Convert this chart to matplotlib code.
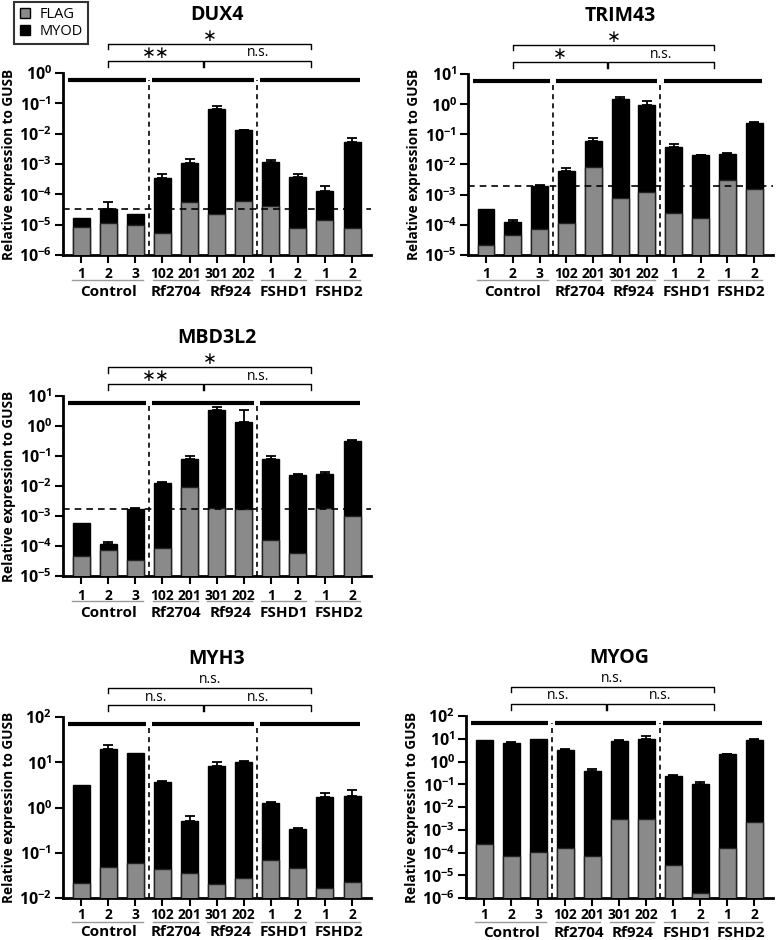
import numpy as np
import matplotlib
matplotlib.use("Agg")
import matplotlib.pyplot as plt
from matplotlib.lines import Line2D

plt.rcParams['font.family'] = ['Open Sans', 'DejaVu Sans']
plt.rcParams['mathtext.fontset'] = 'custom'
plt.rcParams['mathtext.bf'] = 'Open Sans:bold'
plt.rcParams['mathtext.rm'] = 'Open Sans:bold'

# sample labels and groups
samples = ['1', '2', '3', '102', '201', '301', '202', '1', '2', '1', '2']
groups = ['Control', 'Rf2704', 'Rf924', 'FSHD1', 'FSHD2']
group_sizes = [3, 2, 2, 2, 2]

# DUX4
dux4_myod = [1.7e-5, 3.3e-5, 2.2e-5, 3.5e-4, 1.1e-3, 0.066, 0.0128, 1.15e-3, 3.6e-4, 1.3e-4, 5.3e-3]
dux4_err = [0, 2.3e-5, 0, 1.1e-4, 4e-4, 0.013, 7e-4, 2.5e-4, 1.2e-4, 5.5e-5, 1.8e-3]
dux4_flag = [8.5e-6, 1.15e-5, 9.6e-6, 5.4e-6, 5.4e-5, 2.2e-5, 6.2e-5, 4.2e-5, 7.7e-6, 1.4e-5, 7.9e-6]

# TRIM43
trim43_myod = [3.4e-4, 1.25e-4, 2.0e-3, 6.0e-3, 0.058, 1.5, 0.97, 0.037, 0.0205, 0.022, 0.23]
trim43_err = [0, 2e-5, 1e-4, 1.5e-3, 0.02, 0.25, 0.28, 0.012, 5e-4, 2e-3, 0.03]
trim43_flag = [2.1e-5, 4.7e-5, 7.2e-5, 1.15e-4, 8e-3, 8e-4, 1.25e-3, 2.5e-4, 1.7e-4, 3e-3, 1.55e-3]

# MBD3L2
mbd3l2_myod = [6e-4, 1.15e-4, 1.7e-3, 0.0126, 0.078, 3.5, 1.35, 0.078, 0.024, 0.026, 0.31]
mbd3l2_err = [0, 2e-5, 1e-4, 1.2e-3, 0.02, 0.9, 2.0, 0.022, 5e-4, 4e-3, 0.04]
mbd3l2_flag = [4.7e-5, 7.2e-5, 3.5e-5, 8.8e-5, 9.3e-3, 1.9e-3, 1.67e-3, 1.55e-4, 6e-5, 1.9e-3, 9.8e-4]

# MYH3
myh3_myod = [3.2, 20, 15.9, 3.7, 0.5, 8.2, 10, 1.23, 0.34, 1.7, 1.8]
myh3_err = [0, 4.6, 0, 0.2, 0.14, 1.8, 0.6, 0.1, 0.01, 0.4, 0.6]
myh3_flag = [0.0215, 0.049, 0.06, 0.043, 0.036, 0.02, 0.027, 0.068, 0.046, 0.0166, 0.0224]

# MYOG
myog_myod = [9.1, 6.3, 10, 3.3, 0.39, 8, 10, 0.24, 0.105, 2.05, 8.5]
myog_err = [0, 0.7, 0, 0.2, 0.08, 0.5, 3, 0.01, 0.015, 0.15, 1.0]
myog_flag = [2.35e-4, 7e-5, 1.07e-4, 1.65e-4, 7.1e-5, 3e-3, 3e-3, 2.95e-5, 1.65e-6, 1.5e-4, 2.2e-3]

GRAY = '#8a8a8a'
W, H = 777, 940


def draw_panel(ax, title, flag, myod, err, ylim, sig, threshold=None, bottom_row=False):
    x = np.arange(len(samples))
    ax.set_yscale('log')
    ax.bar(x, myod, width=0.63, color='black', edgecolor='black', linewidth=1, zorder=2)
    ax.bar(x, flag, width=0.63, color=GRAY, edgecolor='#222222', linewidth=1, zorder=3)
    err = np.array(err)
    m = err > 0
    ax.errorbar(x[m], np.array(myod)[m], yerr=[np.zeros(m.sum()), err[m]], fmt='none',
                ecolor='black', elinewidth=1.3, capsize=3.5, capthick=1.3, zorder=1)
    ax.set_ylim(*ylim)
    ax.set_xlim(-0.67, len(samples) - 0.3)

    exps = range(int(np.log10(ylim[0])), int(np.log10(ylim[1])) + 1)
    ax.set_yticks([10.0 ** e for e in exps])
    ax.set_yticklabels([r'$\mathbf{10^{%d}}$' % e for e in exps], fontsize=11.5)
    ax.minorticks_off()
    ax.set_xticks(x)
    ax.set_xticklabels(samples, fontsize=10, fontweight='bold')
    ax.tick_params(axis='both', direction='out', width=1.5, length=6)
    ax.tick_params(axis='y', pad=2)
    ax.tick_params(axis='x', pad=1 if bottom_row else 3)
    for s in ['top', 'right']:
        ax.spines[s].set_visible(False)
    for s in ['left', 'bottom']:
        ax.spines[s].set_linewidth(2)
    ax.set_ylabel('Relative expression to GUSB', fontsize=9.8, fontweight='bold')
    ax_w = ax.get_position().width * W
    ax.yaxis.set_label_coords(-47 / ax_w, 0.5)
    ax.set_title(title, fontsize=14, fontweight='bold', pad=38)

    trans = ax.get_xaxis_transform()
    uline = -0.13 if bottom_row else -0.14
    gname = -0.19 if bottom_row else -0.205
    ends = np.cumsum(group_sizes) - 1
    starts = ends - np.array(group_sizes) + 1
    for s, e, g in zip(starts, ends, groups):
        ax.plot([s - 0.35, e + 0.3], [uline, uline], transform=trans, color='#9a9a9a',
                lw=1, clip_on=False)
        ax.text((s + e) / 2, gname, g, transform=trans, ha='center', va='center',
                fontsize=11, fontweight='bold')

    # dividers between conditions
    div1 = ends[0] + 0.5
    div2 = ends[2] + 0.5
    for d in [div1, div2]:
        ax.plot([d, d], [0, 0.96], transform=trans, color='black', lw=1.2,
                ls=(0, (3, 2.5)), zorder=4)
    segs = [(-0.5, div1 - 0.12), (div1 + 0.12, div2 - 0.12), (div2 + 0.12, len(samples) - 0.7)]
    for a, b in segs:
        ax.plot([a, b], [0.96, 0.96], transform=trans, color='black', lw=3,
                solid_capstyle='butt', zorder=4)

    if threshold is not None:
        ax.axhline(threshold, color='black', lw=1.2, ls=(0, (4, 3)), zorder=4)

    # significance brackets
    c_ctrl = (starts[0] + ends[0]) / 2
    c_mid = (starts[1] + ends[2]) / 2
    c_fshd = (starts[3] + ends[4]) / 2
    brackets = [(c_ctrl, c_mid, 1.065), (c_mid + 0.05, c_fshd, 1.065), (c_ctrl, c_fshd, 1.16)]
    for (x0, x1, y), lab in zip(brackets, sig):
        ax.plot([x0, x0, x1, x1], [y - 0.03, y, y, y - 0.03], transform=trans,
                color='black', lw=1, clip_on=False)
        if lab == 'n.s.':
            ax.text((x0 + x1) / 2, y + 0.004, lab, transform=trans, ha='center',
                    va='bottom', fontsize=10)
        else:
            ax.text((x0 + x1) / 2, y - 0.005, lab.replace('*', '\u2217'), transform=trans,
                    ha='center', va='bottom', fontsize=12, family=['DejaVu Sans'])


fig = plt.figure(figsize=(W / 100, H / 100), dpi=100)


def add_axes(left, right, top, bottom):
    return fig.add_axes([left / W, 1 - bottom / H, (right - left) / W, (bottom - top) / H])


ax1 = add_axes(63, 371, 73, 255)
ax2 = add_axes(468, 773, 74, 255)
ax3 = add_axes(63, 371, 396, 576)
ax4 = add_axes(63, 371, 717, 898)
ax5 = add_axes(466, 773, 716, 898)

draw_panel(ax1, 'DUX4', dux4_flag, dux4_myod, dux4_err, (1e-6, 1), ['**', 'n.s.', '*'],
           threshold=max(dux4_myod[:3]))
draw_panel(ax2, 'TRIM43', trim43_flag, trim43_myod, trim43_err, (1e-5, 10), ['*', 'n.s.', '*'],
           threshold=max(trim43_myod[:3]))
draw_panel(ax3, 'MBD3L2', mbd3l2_flag, mbd3l2_myod, mbd3l2_err, (1e-5, 10), ['**', 'n.s.', '*'],
           threshold=max(mbd3l2_myod[:3]))
draw_panel(ax4, 'MYH3', myh3_flag, myh3_myod, myh3_err, (1e-2, 100), ['n.s.', 'n.s.', 'n.s.'],
           bottom_row=True)
draw_panel(ax5, 'MYOG', myog_flag, myog_myod, myog_err, (1e-6, 100), ['n.s.', 'n.s.', 'n.s.'],
           bottom_row=True)

handles = [Line2D([], [], ls='none', marker='s', markersize=6.5, markerfacecolor=GRAY,
                  markeredgecolor='black', label='FLAG'),
           Line2D([], [], ls='none', marker='s', markersize=6.5, markerfacecolor='black',
                  markeredgecolor='black', label='MYOD')]
leg = fig.legend(handles=handles, loc='upper left', bbox_to_anchor=(14 / W, 1 - 2 / H),
                 frameon=True, fancybox=False, edgecolor='black', fontsize=10.5,
                 handlelength=0.8, handletextpad=0.6, labelspacing=0.15, borderpad=0.35,
                 borderaxespad=0)
leg.get_frame().set_linewidth(1.5)

fig.savefig('out.png', dpi=100)
